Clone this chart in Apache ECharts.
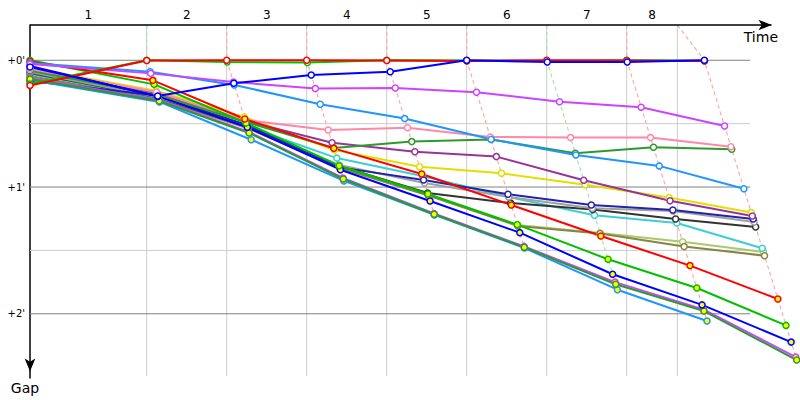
<!DOCTYPE html>
<html><head><meta charset="utf-8">
<script src="https://cdn.jsdelivr.net/npm/echarts@6/dist/echarts.min.js"></script>
<style>html,body{margin:0;padding:0;background:#fff}#c{width:800px;height:400px}</style>
</head><body><div id="c"></div>
<script>
// ---- time axis (seconds) ----
const leaderLapTimes = [179.3, 302.3, 425.2, 548.2, 671.1, 794.1, 917.0, 1036.3];
const lapGridTimes   = [179.3, 302.3, 425.2, 548.2, 671.1, 794.1, 917.0, 994.8];
const lapLabels      = ['1', '2', '3', '4', '5', '6', '7', '8'];
const lapLineKinds   = ['green', 'pink', 'pink', 'pink', 'pink', 'green', 'pink', 'pink'];
const gapMajorTicks  = [0, 60, 120];
const gapMinorLines  = [30, 90];
const timeMin = 0, timeMax = 1183.3, timeArrowEnd = 1139.5, gapMin = -16.7, gapMax = 150.4;
const gridTimeEnd = 1106.5, gridGapEnd = 149.5;

// ---- gaps to leader (seconds): [start, lap1 .. lap8] ----
const red1    = [11.9, 0.1, 0, 0, 0.1, 0.3, 0, 0.1, 0.3];
const green1  = [11.2, 0, 0.8, 1.1, 0, 0.1, 0.3, 0, 0.2];
const blue1   = [3.2, 16.9, 10.9, 7.0, 5.4, 0, 0.8, 0.8, 0];
const violet1 = [1.8, 6.2, 10.3, 13.4, 13.1, 15.1, 19.6, 22.2, 31.1];
const dodger1 = [1.3, 5.4, 11.7, 20.8, 27.6, 37.4, 44.8, 50.0, 60.8];
const pink    = [4.1, 15.0, 28.3, 33.0, 31.9, 36.3, 36.6, 36.6, 40.9];
const fgreen1 = [5.0, 16.4, 29.2, 41.5, 38.5, 37.5, 44.0, 41.2, 42.1];
const purple  = [4.6, 15.5, 28.7, 39.0, 43.3, 45.6, 56.8, 66.5, 73.7];
const yellow  = [3.6, 14.4, 26.8, 42.5, 50.4, 53.5, 58.9, 65.0, 72.1];
const navy    = [9.8, 16.7, 30.6, 50.7, 56.7, 63.4, 68.5, 70.9, 75.1];
const gray    = [5.5, 17.4, 31.1, 49.6, 58.1, 64.7, 70.1, 71.3, 76.6];
const black   = [6.0, 17.6, 31.6, 50.0, 62.8, 67.6, 70.6, 75.1, 78.9];
const cyan    = [6.5, 17.8, 31.3, 46.3, 54.8, 64.7, 73.4, 77.0, 89.0];
const olive   = [7.4, 18.3, 32.0, 51.0, 64.0, 78.4, 82.0, 88.2, 92.5];
const lolive  = [7.9, 18.6, 32.3, 50.7, 63.8, 78.0, 81.8, 85.9, 90.8];
const red2    = [0.6, 9.5, 27.8, 41.7, 53.8, 68.5, 83.2, 97.2, 113.0];
const green2  = [0, 11.4, 29.7, 49.9, 63.3, 77.8, 94.2, 107.8, 125.5];
const blue2   = [2.7, 17.1, 31.7, 51.8, 66.6, 81.6, 101.3, 115.8, 133.4];
const violet2 = [8.4, 18.8, 33.9, 55.7, 72.5, 88.1, 105.0, 117.9, 140.5];
const fgreen2 = [8.9, 19.3, 34.4, 56.2, 72.9, 88.5, 106.0, 118.7, 141.9];
const dodger2 = [9.3, 19.7, 37.6, 57.1, 73.2, 88.9, 108.6, 123.4];

// draw order (first = bottom)
const cars = [
  [lolive, '#aac870', '#fff'], [olive, '#868640', '#fff'], [cyan, '#3ccfcf', '#fff'],
  [black, '#333333', '#fff'], [gray, '#a0a0a0', '#fff'], [navy, '#2222aa', '#fff'],
  [yellow, '#e0e000', '#fff'], [purple, '#993399', '#fff'], [fgreen1, '#2e9a2e', '#fff'],
  [pink, '#ff88aa', '#fff'],
  [dodger2, '#1e96ff', '#ffff00'], [violet2, '#cc44ff', '#ffff00'], [fgreen2, '#2e9a2e', '#ffff00'],
  [blue2, '#0000ff', '#ffff00'], [green2, '#00c000', '#ffff00'], [red2, '#ff0000', '#ffff00'],
  [dodger1, '#1e96ff', '#fff'], [violet1, '#cc44ff', '#fff'],
  [green1, '#00c000', '#fff'], [red1, '#ff0000', '#fff'], [blue1, '#0000ff', '#fff']
];

const FONT = 'DejaVu Sans';
const bounds = [timeMin].concat(lapGridTimes);
const lapCenters = lapLabels.map((_, i) => (bounds[i] + bounds[i + 1]) / 2);

const series = [];
// vertical gridlines
lapGridTimes.forEach(t => series.push({
  type: 'line', data: [[t, gapMin], [t, gridGapEnd]], symbol: 'none', silent: true,
  lineStyle: { color: '#cccccc', width: 1 }
}));
// horizontal gridlines
gapMinorLines.forEach(g => series.push({
  type: 'line', data: [[timeMin, g], [gridTimeEnd, g]], symbol: 'none', silent: true,
  lineStyle: { color: '#cccccc', width: 1 }
}));
gapMajorTicks.forEach(g => series.push({
  type: 'line', data: [[timeMin, g], [gridTimeEnd, g]], symbol: 'none', silent: true,
  lineStyle: { color: '#808080', width: 1 }
}));
// dashed lap-completion lines
leaderLapTimes.forEach((t, k) => {
  const gs = cars.map(c => c[0][k + 1]).filter(v => v != null);
  const gmax = Math.max.apply(null, gs);
  series.push({
    type: 'line', silent: true, symbol: 'none',
    data: [[lapGridTimes[k], gapMin], [t, 0], [t + gmax, gmax]],
    lineStyle: { color: lapLineKinds[k] === 'green' ? '#a8e4a8' : '#ffaaaa', width: 1.2, type: [4, 3] }
  });
});
// cars
cars.forEach(([gaps, color, fill]) => {
  const data = gaps.map((g, i) => i === 0 ? [timeMin, g] : [leaderLapTimes[i - 1] + g, g]);
  series.push({
    type: 'line', data, symbol: 'circle', symbolSize: 6, silent: true,
    lineStyle: { color, width: 2 },
    itemStyle: { color: fill, borderColor: color, borderWidth: 1.5 },
    emphasis: { disabled: true }
  });
});
// time axis line with arrow
series.push({
  type: 'line', data: [], silent: true,
  markLine: {
    silent: true, animation: false, symbol: ['none', 'arrow'], symbolSize: [8, 13],
    label: { show: false }, emphasis: { disabled: true },
    lineStyle: { color: '#000', width: 1.5, type: 'solid' },
    data: [[{ coord: [timeMin, gapMin] }, { coord: [timeArrowEnd, gapMin] }]]
  }
});

const chart = echarts.init(document.getElementById('c'), null, { renderer: 'svg' });
chart.setOption({
  animation: false,
  backgroundColor: '#ffffff',
  grid: { left: 30, right: 0, top: 25, bottom: 22 },
  xAxis: {
    type: 'value', position: 'top', min: timeMin, max: timeMax,
    axisLine: { show: false, onZero: false },
    axisTick: { show: false }, splitLine: { show: false },
    axisLabel: {
      customValues: lapCenters, margin: 4, fontSize: 12, color: '#000', fontFamily: FONT,
      formatter: v => { const i = lapCenters.findIndex(c => Math.abs(c - v) < 1e-6); return i >= 0 ? lapLabels[i] : ''; }
    },
    name: 'Time', nameLocation: 'end', nameGap: -22,
    nameTextStyle: { align: 'right', verticalAlign: 'top', fontSize: 14, color: '#000', fontFamily: FONT, padding: [5, 0, 0, 0] }
  },
  yAxis: {
    type: 'value', inverse: true, min: gapMin, max: gapMax,
    axisLine: { lineStyle: { color: '#000', width: 1.5 },
      symbol: ['arrow', 'none'], symbolSize: [8, 13], symbolOffset: [6.5, 0] },
    axisTick: { show: false }, splitLine: { show: false },
    axisLabel: {
      customValues: gapMajorTicks, margin: 5, fontSize: 10, color: '#000', fontFamily: FONT,
      formatter: v => '+' + (v / 60) + "'"
    },
    name: 'Gap', nameLocation: 'end', nameGap: 3,
    nameTextStyle: { align: 'center', verticalAlign: 'top', fontSize: 14, color: '#000', fontFamily: FONT, padding: [0, 10, 0, 0] }
  },
  series
});
</script></body></html>
